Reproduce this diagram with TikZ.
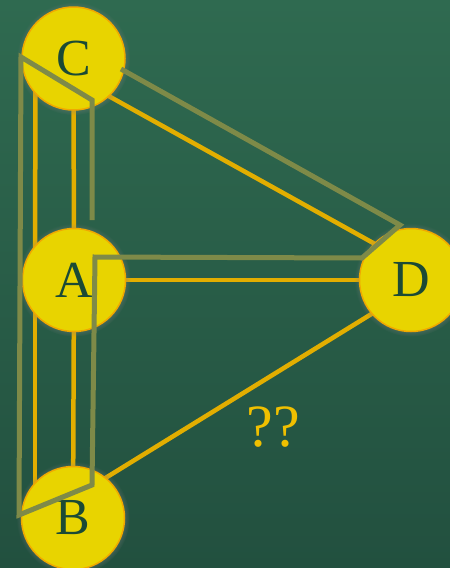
\documentclass[tikz,border=0pt]{standalone}
\usepackage{fontspec}
\setmainfont{Liberation Serif}
\usetikzlibrary{calc,shadows}
\definecolor{bgtop}{HTML}{2F6A50}
\definecolor{bgbot}{HTML}{22503F}
\definecolor{ballfill}{HTML}{E8D400}
\definecolor{balledge}{HTML}{F0A800}
\definecolor{balltext}{HTML}{1B4A35}
\definecolor{edgey}{HTML}{E2AE00}
\definecolor{olive}{HTML}{7E8A48}
\definecolor{qcol}{HTML}{F0C000}
\pgfdeclarelayer{background}
\pgfdeclarelayer{foreground}
\pgfsetlayers{background,main,foreground}
\tikzset{
  ball/.style={circle, fill=ballfill, draw=balledge, line width=1.5pt,
    minimum size=103pt, inner sep=0pt, text=balltext,
    font=\fontsize{52}{52}\selectfont,
    circular drop shadow={shadow xshift=0pt, shadow yshift=0pt, shadow scale=1.1, opacity=0.5}},
  edge/.style={draw=edgey, line width=4.5pt},
  walk/.style={draw=olive, line width=5pt, line join=miter},
}
\begin{document}
\begin{tikzpicture}[x=1pt,y=-1pt]
\useasboundingbox (0,0) rectangle (450,568);
\node[ball] (C) at (73.5,58.5) {C};
\node[ball] (A) at (74,280) {A};
\node[ball] (B) at (73,518) {B};
\node[ball] (D) at (411,280) {D};
\node[text=qcol, font=\fontsize{60}{60}\selectfont] (q) at (273,427) {??};
\begin{pgfonlayer}{background}
  \shade[top color=bgtop, bottom color=bgbot] (0,0) rectangle (450,568);
  \draw[edge] ($(C.center)+(-38,0)$) -- ($(A.center)+(-39,0)$);
  \draw[edge] (C.center) -- (A.center);
  \draw[edge] ($(A.center)+(-39,0)$) -- ($(B.center)+(-38,0)$);
  \draw[edge] (A.center) -- (B.center);
  \draw[edge] ($(C.center)+(0,18)$) -- ($(D.center)+(0,-16)$);
  \draw[edge] (A.center) -- (D.center);
  \draw[edge] ($(B.center)+(0,-20)$) -- ($(D.center)+(0,9.6)$);
\end{pgfonlayer}
\coordinate (w0) at (92,220);
\coordinate (w1) at (92,100);
\coordinate (w2) at (21,57);
\coordinate (w3) at (19,515);
\coordinate (w4) at (92,485);
\coordinate (w5) at (95,257);
\coordinate (w6) at (362,258);
\coordinate (w7) at (400,225);
\coordinate (w8) at (121,69);
\begin{pgfonlayer}{foreground}
  \draw[walk] (w0) -- (w1) -- (w2) -- (w3) -- (w4) -- (w5) -- (w6) -- (w7) -- (w8);
\end{pgfonlayer}
\end{tikzpicture}
\end{document}
